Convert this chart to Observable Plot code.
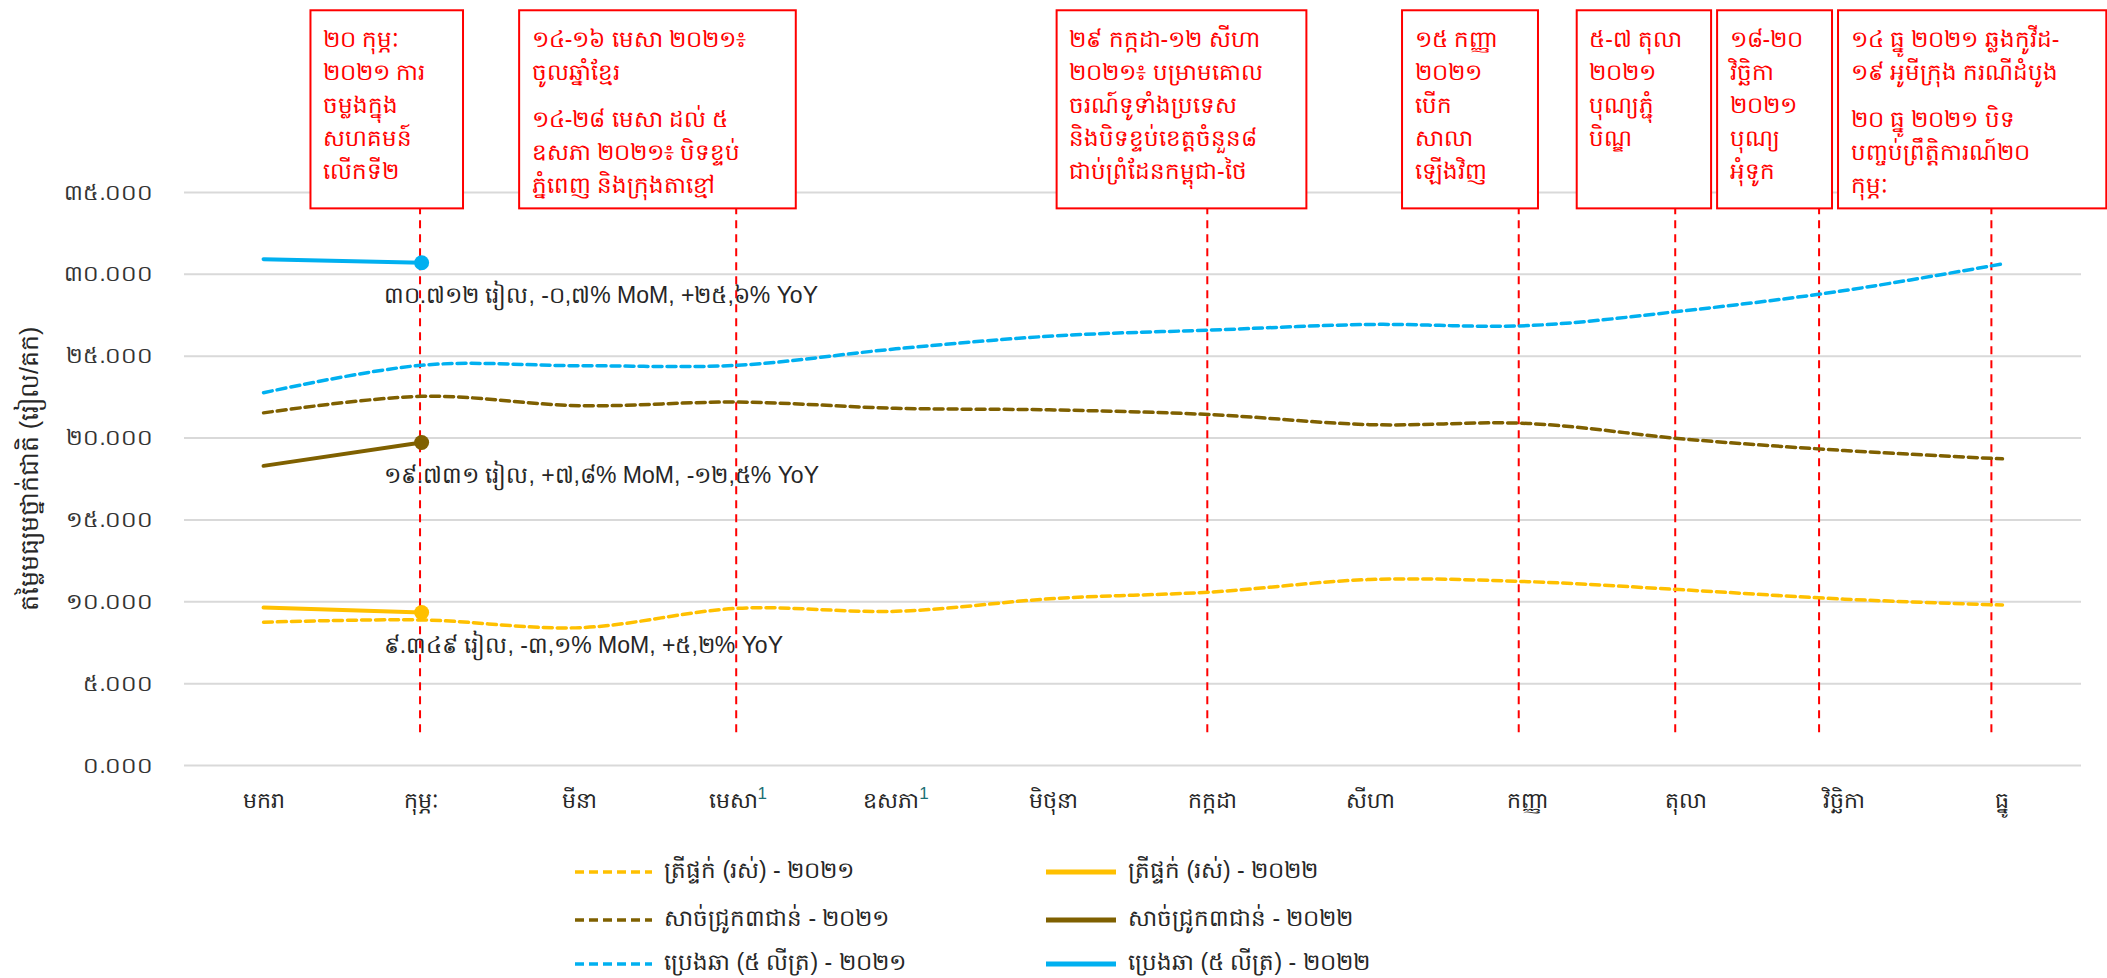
<!DOCTYPE html>
<html><head><meta charset="utf-8">
<script src="https://cdn.jsdelivr.net/npm/d3@7"></script>
<script src="https://cdn.jsdelivr.net/npm/@observablehq/plot@0.6"></script>
<style>
body{margin:0;background:#fff;font-family:"Liberation Sans","Noto Sans","DejaVu Sans",sans-serif;}
#wrap{position:relative;width:2107px;height:978px;overflow:hidden;}
#legend{position:absolute;left:0;top:0;width:2107px;height:978px;pointer-events:none;}
.li{position:absolute;display:flex;align-items:center;font-size:23px;color:#262626;white-space:nowrap;}
.li svg{margin-right:12px;}
</style></head><body>
<div id="wrap"><div id="chart"></div><div id="legend"></div></div>
<script>
// ---- data ----
const months = ["មករា","កុម្ភៈ","មីនា","មេសា","ឧសភា","មិថុនា","កក្កដា","សីហា","កញ្ញា","តុលា","វិច្ឆិកា","ធ្នូ"];
const monthNotes = ["","","","1","1","","","","","","",""];
const fish2021 = [8750, 8890, 8420, 9600, 9420, 10200, 10600, 11360, 11230, 10720, 10160, 9800];
const fish2022 = [9648, 9349];
const pork2021 = [21540, 22550, 21980, 22200, 21820, 21720, 21430, 20820, 20890, 19930, 19240, 18730];
const pork2022 = [18303, 19731];
const oil2021 = [22770, 24450, 24420, 24450, 25450, 26240, 26600, 26940, 26870, 27790, 29010, 30640];
const oil2022 = [30928, 30712];
const seriesNames = ["ត្រីផ្ទក់ (រស់)", "សាច់ជ្រូក៣ជាន់", "ប្រេងឆា (៥ លីត្រ)"];
const yearNames = ["២០២១", "២០២២"];
const latestLabels = [
  "៩.៣៤៩ រៀល, -៣,១% MoM, +៥,២% YoY",
  "១៩.៧៣១ រៀល, +៧,៨% MoM, -១២,៥% YoY",
  "៣០.៧១២ រៀល, -០,៧% MoM, +២៥,៦% YoY"
];
const yTicks = [0, 5000, 10000, 15000, 20000, 25000, 30000, 35000];
const yTickLabels = ["០.០០០","៥.០០០","១០.០០០","១៥.០០០","២០.០០០","២៥.០០០","៣០.០០០","៣៥.០០០"];
const yLabel = "តម្លៃមធ្យមថ្នាក់ជាតិ (រៀល/គក)";
const eventMonth = [0.99, 2.99, 5.97, 7.94, 8.93, 9.84, 10.93];
const eventText1 = [
  "២០ កុម្ភៈ\n២០២១ ការ\nចម្លងក្នុង\nសហគមន៍\nលើកទី២",
  "១៤-១៦ មេសា ២០២១៖\nចូលឆ្នាំខ្មែរ",
  "២៩ កក្កដា-១២ សីហា\n២០២១៖ បម្រាមគោល\nចរណ៍ទូទាំងប្រទេស\nនិងបិទខ្ទប់ខេត្តចំនួន៨\nជាប់ព្រំដែនកម្ពុជា-ថៃ",
  "១៥ កញ្ញា\n២០២១\nបើក\nសាលា\nឡើងវិញ",
  "៥-៧ តុលា\n២០២១\nបុណ្យភ្ជុំ\nបិណ្ឌ",
  "១៨-២០\nវិច្ឆិកា\n២០២១\nបុណ្យ\nអុំទូក",
  "១៤ ធ្នូ ២០២១ ឆ្លងកូវីដ-\n១៩ អូមីក្រុង ករណីដំបូង"
];
const eventText2 = [
  "",
  "១៤-២៨ មេសា ដល់ ៥\nឧសភា ២០២១៖ បិទខ្ទប់\nភ្នំពេញ និងក្រុងតាខ្មៅ",
  "", "", "", "",
  "២០ ធ្នូ ២០២១ បិទ\nបញ្ចប់ព្រឹត្តិការណ៍២០\nកុម្ភៈ"
];

// ---- layout / style ----
const colors = ["#FFC000", "#7F6000", "#00B0F0"];
const boxX = [[0.30,1.265],[1.62,3.37],[5.02,6.60],[7.205,8.065],[8.31,9.16],[9.198,9.925],[9.963,11.66]];
const boxY = [34000, 46100];
const ruleY = [2000, 34000];
const W = 2107, H = 840;
const font = `"Liberation Sans","Noto Sans","DejaVu Sans",sans-serif`;

const s2021 = [fish2021, pork2021, oil2021];
const s2022 = [fish2022, pork2022, oil2022];

const marks = [
  Plot.gridY(yTicks, {stroke: "#d9d9d9", strokeOpacity: 1, strokeWidth: 2}),
  Plot.axisY(yTicks, {tickFormat: d => yTickLabels[yTicks.indexOf(d)], tickSize: 0, tickPadding: 31,
    fontSize: 22, fill: "#333333", label: null}),
  Plot.text([yLabel], {text: d => d, frameAnchor: "left", textAnchor: "middle", rotate: -90, dx: -155, dy: -10,
    fontSize: 25, fill: "#262626"}),
  Plot.axisX(d3.range(12), {tickFormat: i => months[i], tickSize: 0, tickPadding: 27, fontSize: 22,
    fill: "#262626", label: null}),
  Plot.ruleX(eventMonth, {y1: ruleY[0], y2: ruleY[1], stroke: "#ff0000", strokeWidth: 2, strokeDasharray: "8,6"})
];
s2021.forEach((arr, k) => {
  marks.push(Plot.line(arr.map((v, i) => ({m: i, v})), {x: "m", y: "v", stroke: colors[k], strokeWidth: 3.5,
    strokeDasharray: "9,5", curve: "cardinal"}));
});
s2022.forEach((arr, k) => {
  const pts = arr.map((v, i) => ({m: i, v}));
  marks.push(Plot.line(pts, {x: "m", y: "v", stroke: colors[k], strokeWidth: 4}));
  marks.push(Plot.dot([pts[pts.length - 1]], {x: "m", y: "v", r: 7.5, fill: colors[k]}));
  marks.push(Plot.text([pts[pts.length - 1]], {x: "m", y: "v", text: () => latestLabels[k], textAnchor: "start",
    dx: -38, dy: 33, fontSize: 23, fill: "#262626"}));
});
const ev = d3.range(eventMonth.length);
marks.push(Plot.rect(ev, {x1: i => boxX[i][0], x2: i => boxX[i][1], y1: boxY[0], y2: boxY[1],
  fill: "white", stroke: "#ff0000", strokeWidth: 2}));
marks.push(Plot.text(ev, {x: i => boxX[i][0], y: boxY[1], text: i => eventText1[i], textAnchor: "start",
  lineAnchor: "top", dx: 12, dy: 13, fill: "#ff0000", fontSize: 23, lineHeight: 1.43}));
ev.forEach(i => {
  if (!eventText2[i]) return;
  const n = eventText1[i].split("\n").length;
  marks.push(Plot.text([i], {x: j => boxX[j][0], y: boxY[1], text: j => eventText2[j], textAnchor: "start",
    lineAnchor: "top", dx: 12, dy: 13 + n * 33 + 14, fill: "#ff0000", fontSize: 23, lineHeight: 1.43}));
});

const chart = Plot.plot({
  width: W, height: H,
  marginTop: 192, marginBottom: H - 765, marginLeft: 184, marginRight: 26,
  style: {fontFamily: font, background: "white", overflow: "visible"},
  x: {type: "linear", domain: [-0.5, 11.5]},
  y: {type: "linear", domain: [0, 35000]},
  marks
});
document.getElementById("chart").appendChild(chart);

// superscript footnote marks on month labels
d3.select(chart).selectAll('g[aria-label="x-axis tick label"] text').each(function() {
  const t = d3.select(this);
  const idx = months.indexOf(t.text());
  if (idx >= 0 && monthNotes[idx]) {
    t.append("tspan").attr("dy", "-0.55em").attr("font-size", 17).attr("fill", "#1d6f75").text(monthNotes[idx]);
  }
});

// legend (HTML, below the SVG)
const legendItems = [];
yearNames.forEach((yr, c) => seriesNames.forEach((nm, r) => legendItems.push({nm, yr, c, r})));
const legCols = [575, 1046];
const legRows = [872, 920, 964];
const leg = d3.select("#legend");
legendItems.forEach(({nm, yr, c, r}) => {
  const div = leg.append("div").attr("class", "li")
    .style("left", legCols[c] + "px").style("top", (legRows[r] - 16) + "px").style("height", "32px");
  const sw = div.append("svg").attr("width", c === 0 ? 77 : 70).attr("height", 10);
  sw.append("line").attr("x1", 0).attr("x2", c === 0 ? 77 : 70).attr("y1", 5).attr("y2", 5)
    .attr("stroke", colors[r]).attr("stroke-width", c === 0 ? 3.5 : 5)
    .attr("stroke-dasharray", c === 0 ? "9,5" : null);
  div.append("span").text(nm + " - " + yr);
});
</script>
</body></html>
